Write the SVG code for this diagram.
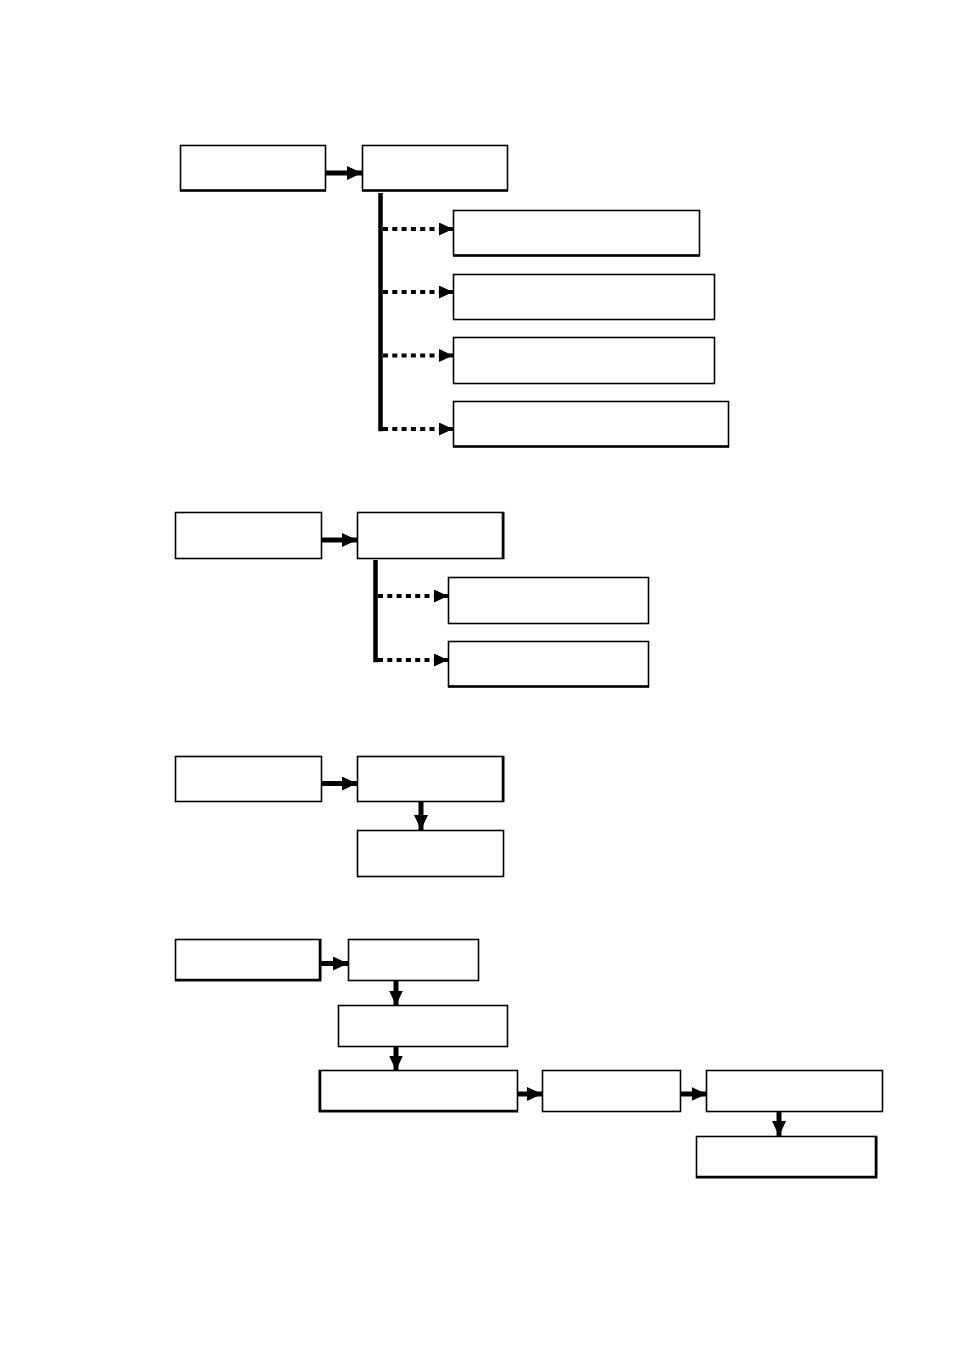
<svg xmlns="http://www.w3.org/2000/svg" width="954" height="1350" viewBox="0 0 954 1350">
<style>
.box{fill:#fff;stroke:#000;stroke-width:1.6}
.edge{stroke:#000;stroke-width:2.6;fill:none}
.solid{stroke:#000;stroke-width:5;fill:none}
.dot{stroke:#000;stroke-width:4;fill:none;stroke-dasharray:5 4.3}
.trunk{stroke:#000;stroke-width:4.5;fill:none}
</style>
<defs>
<marker id="ah" markerUnits="userSpaceOnUse" markerWidth="15" markerHeight="14" refX="15" refY="7" orient="auto">
<path d="M0,0 L15,7 L0,14 Z" fill="#000"/>
</marker>
<marker id="ahd" markerUnits="userSpaceOnUse" markerWidth="14" markerHeight="13" refX="14" refY="6.5" orient="auto">
<path d="M0,0 L14,6.5 L0,13 Z" fill="#000"/>
</marker>
</defs>
<rect width="954" height="1350" fill="#fff"/>

<g id="connectors">
<line class="solid" x1="325" y1="173" x2="362" y2="173" marker-end="url(#ah)"/>
<polyline class="trunk" points="380.5,193 380.5,429 383,429"/>
<line class="dot" x1="383" y1="229" x2="453" y2="229" marker-end="url(#ahd)"/>
<line class="dot" x1="383" y1="292" x2="453" y2="292" marker-end="url(#ahd)"/>
<line class="dot" x1="383" y1="355.5" x2="453" y2="355.5" marker-end="url(#ahd)"/>
<line class="dot" x1="383" y1="429" x2="453" y2="429" marker-end="url(#ahd)"/>
<line class="solid" x1="322" y1="540" x2="357" y2="540" marker-end="url(#ah)"/>
<polyline class="trunk" points="375.5,560 375.5,660 378,660"/>
<line class="dot" x1="378" y1="596" x2="448" y2="596" marker-end="url(#ahd)"/>
<line class="dot" x1="378" y1="660" x2="448" y2="660" marker-end="url(#ahd)"/>
<line class="solid" x1="322" y1="783.5" x2="357" y2="783.5" marker-end="url(#ah)"/>
<line class="solid" x1="421" y1="802" x2="421" y2="830" marker-end="url(#ah)"/>
<line class="solid" x1="316.5" y1="963.5" x2="348" y2="963.5" marker-end="url(#ah)"/>
<line class="solid" x1="396" y1="980" x2="396" y2="1005.5" marker-end="url(#ah)"/>
<line class="solid" x1="396" y1="1046" x2="396" y2="1070.5" marker-end="url(#ah)"/>
<line class="solid" x1="518" y1="1094" x2="542" y2="1094" marker-end="url(#ah)"/>
<line class="solid" x1="681" y1="1094" x2="706.5" y2="1094" marker-end="url(#ah)"/>
<line class="solid" x1="779" y1="1112" x2="779" y2="1136" marker-end="url(#ah)"/>
</g>

<g id="s1-a"><rect class="box" x="180.5" y="145.5" width="145" height="45"/><line class="edge" x1="180" y1="190.5" x2="326" y2="190.5"/></g>
<g id="s1-b"><rect class="box" x="362.5" y="145.5" width="145" height="45"/><line class="edge" x1="362" y1="190.5" x2="508" y2="190.5"/></g>
<g id="s1-c1"><rect class="box" x="453.5" y="210.5" width="246" height="45"/><line class="edge" x1="453" y1="255.5" x2="700" y2="255.5"/></g>
<g id="s1-c2"><rect class="box" x="453.5" y="274.5" width="261" height="45"/></g>
<g id="s1-c3"><rect class="box" x="453.5" y="337.5" width="261" height="46"/></g>
<g id="s1-c4"><rect class="box" x="453.5" y="401.5" width="275" height="45"/><line class="edge" x1="453" y1="446.5" x2="729" y2="446.5"/></g>

<g id="s2-a"><rect class="box" x="175.5" y="512.5" width="146" height="46"/></g>
<g id="s2-b"><rect class="box" x="357.5" y="512.5" width="146" height="46"/><line class="edge" x1="503" y1="512" x2="503" y2="559"/></g>
<g id="s2-c1"><rect class="box" x="448.5" y="577.5" width="200" height="46"/></g>
<g id="s2-c2"><rect class="box" x="448.5" y="641.5" width="200" height="45"/><line class="edge" x1="448" y1="686.5" x2="649" y2="686.5"/></g>

<g id="s3-a"><rect class="box" x="175.5" y="756.5" width="146" height="45"/></g>
<g id="s3-b"><rect class="box" x="357.5" y="756.5" width="146" height="45"/><line class="edge" x1="503" y1="756" x2="503" y2="802"/></g>
<g id="s3-c"><rect class="box" x="357.5" y="830.5" width="146" height="46"/></g>

<g id="s4-a"><rect class="box" x="175.5" y="939.5" width="145" height="41"/><line class="edge" x1="175" y1="980" x2="321" y2="980"/><line class="edge" x1="320" y1="939" x2="320" y2="981"/></g>
<g id="s4-b"><rect class="box" x="348.5" y="939.5" width="130" height="41"/></g>
<g id="s4-c"><rect class="box" x="338.5" y="1005.5" width="169" height="41"/></g>
<g id="s4-d"><rect class="box" x="319.5" y="1070.5" width="198" height="41"/><line class="edge" x1="320" y1="1070" x2="320" y2="1112"/><line class="edge" x1="319" y1="1111" x2="518" y2="1111"/></g>
<g id="s4-e"><rect class="box" x="542.5" y="1070.5" width="138" height="41"/></g>
<g id="s4-f"><rect class="box" x="706.5" y="1070.5" width="176" height="41"/></g>
<g id="s4-g"><rect class="box" x="696.5" y="1136.5" width="180" height="41"/><line class="edge" x1="696" y1="1177" x2="877" y2="1177"/><line class="edge" x1="876" y1="1136" x2="876" y2="1178"/></g>
</svg>
